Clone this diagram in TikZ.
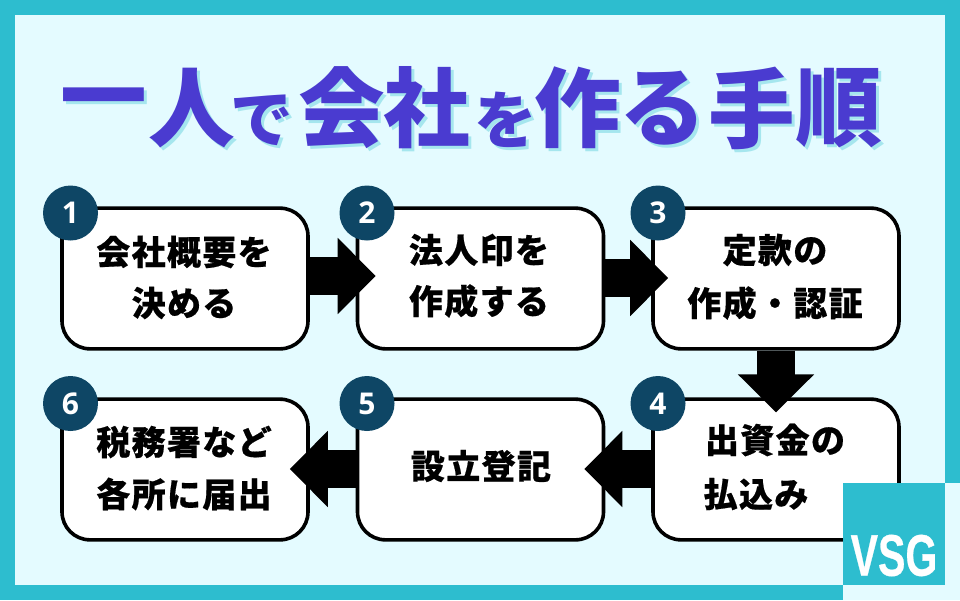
\documentclass[tikz,border=0pt]{standalone}
\usepackage{fontspec}
\usetikzlibrary{arrows.meta,calc}
\newfontfamily\jpblack{Noto Sans CJK JP Black}
\newfontfamily\jpbold[LetterSpace=4,FakeBold=0.5]{Noto Sans CJK JP Black}
\newfontfamily\numfont{Open Sans Bold}
\newfontfamily\logofont[FakeBold=0.6]{Liberation Sans Bold}
\definecolor{teal1}{HTML}{2DBDCF}
\definecolor{pale}{HTML}{E4FBFF}
\definecolor{navy}{HTML}{0E4665}
\definecolor{titleblue}{HTML}{4A3BD0}
\definecolor{titleshadow}{HTML}{A5E6EE}
\newcommand\ttl[3]{%
  \node[text=titleshadow,font=\jpblack\fontsize{#3}{#3}\selectfont,anchor=center] at ($(#1)+(3,3)$) {#2};
  \node[text=titleblue,font=\jpblack\fontsize{#3}{#3}\selectfont,anchor=center] at (#1) {#2};}
\tikzset{
  stepbox/.style={draw=black,fill=white,line width=2.7pt,rounded corners=21pt,minimum width=184.5pt,minimum height=105.5pt,inner sep=0pt},
  numdot/.style={circle,fill=navy,text=white,minimum size=41.25pt,inner sep=0pt,font=\numfont\fontsize{22.5}{22.5}\selectfont},
  boxtext/.style={font=\jpbold\fontsize{25.5}{25.5}\selectfont,inner sep=0pt,anchor=center},
  blockarrow/.style={line width=28.5pt,-{Triangle[length=28.5pt,width=55.5pt]},black},
}
\begin{document}
\begin{tikzpicture}[x=0.75pt,y=-0.75pt]
\useasboundingbox (0,0) rectangle (960,600);
\fill[pale] (0,0) rectangle (960,600);
\fill[teal1] (0,0) rectangle (960,15);
\fill[teal1] (0,0) rectangle (15,600);
\fill[teal1] (945,0) rectangle (960,483);
\fill[teal1] (0,585) rectangle (843,600);
% title
\ttl{104,108}{一}{65}
\ttl{192,108}{人}{65}
\ttl{262,120}{で}{47}
\ttl{342,108}{会}{65}
\ttl{427,108}{社}{65}
\ttl{506,120}{を}{47}
\ttl{578,108}{作}{65}
\ttl{663,108}{る}{65}
\ttl{752,108}{手}{65}
\ttl{839,108}{順}{65}
% boxes
\node[stepbox] (b1) at (185,278.5) {};
\node[stepbox] (b2) at (480.5,278.5) {};
\node[stepbox] (b3) at (776,278.5) {};
\node[stepbox] (b6) at (185,469.5) {};
\node[stepbox] (b5) at (480.5,469.5) {};
\node[stepbox] (b4) at (776,469.5) {};
% arrows
\draw[blockarrow] ($(b1.east)+(0,-2.5)$) -- ($(b2.west)+(20,-2.5)$);
\draw[blockarrow] ($(b2.east)+(0,-0.5)$) -- ($(b3.west)+(17,-0.5)$);
\draw[blockarrow] (b3.south) -- ($(b4.north)+(0,15)$);
\draw[blockarrow] ($(b4.west)+(0,-0.5)$) -- ($(b5.east)+(-21,-0.5)$);
\draw[blockarrow] ($(b5.west)+(0,-0.5)$) -- ($(b6.east)+(-20,-0.5)$);
% number dots
\node[numdot] (n1) at (70.5,213) {1};
\node[numdot] (n2) at (367,213) {2};
\node[numdot] (n3) at (658,213) {3};
\node[numdot] (n4) at (658,403.5) {4};
\node[numdot] (n5) at (367,403.5) {5};
\node[numdot] (n6) at (70.5,403.5) {6};
% texts
\node[boxtext] (t1a) at (184,252) {会社概要を};
\node[boxtext] (t1b) at (184,303) {決める};
\node[boxtext] (t2a) at (479,250) {法人印を};
\node[boxtext] (t2b) at (479,301) {作成する};
\node[boxtext] (t3a) at (775,250) {定款の};
\node[boxtext] (t3b) at (775,303) {作成・認証};
\node[boxtext] (t4a) at (775,440) {出資金の};
\node[boxtext] (t4b) at (756,494) {払込み};
\node[boxtext] (t5a) at (481,466) {設立登記};
\node[boxtext] (t6a) at (184,442) {税務署など};
\node[boxtext] (t6b) at (184,494) {各所に届出};
% logo
\fill[teal1] (843,483) rectangle (945,585);
\node[white,font=\logofont\fontsize{44}{44}\selectfont,xscale=0.70,inner sep=0pt] (logo) at (894,555.5) {VSG};
\end{tikzpicture}
\end{document}
